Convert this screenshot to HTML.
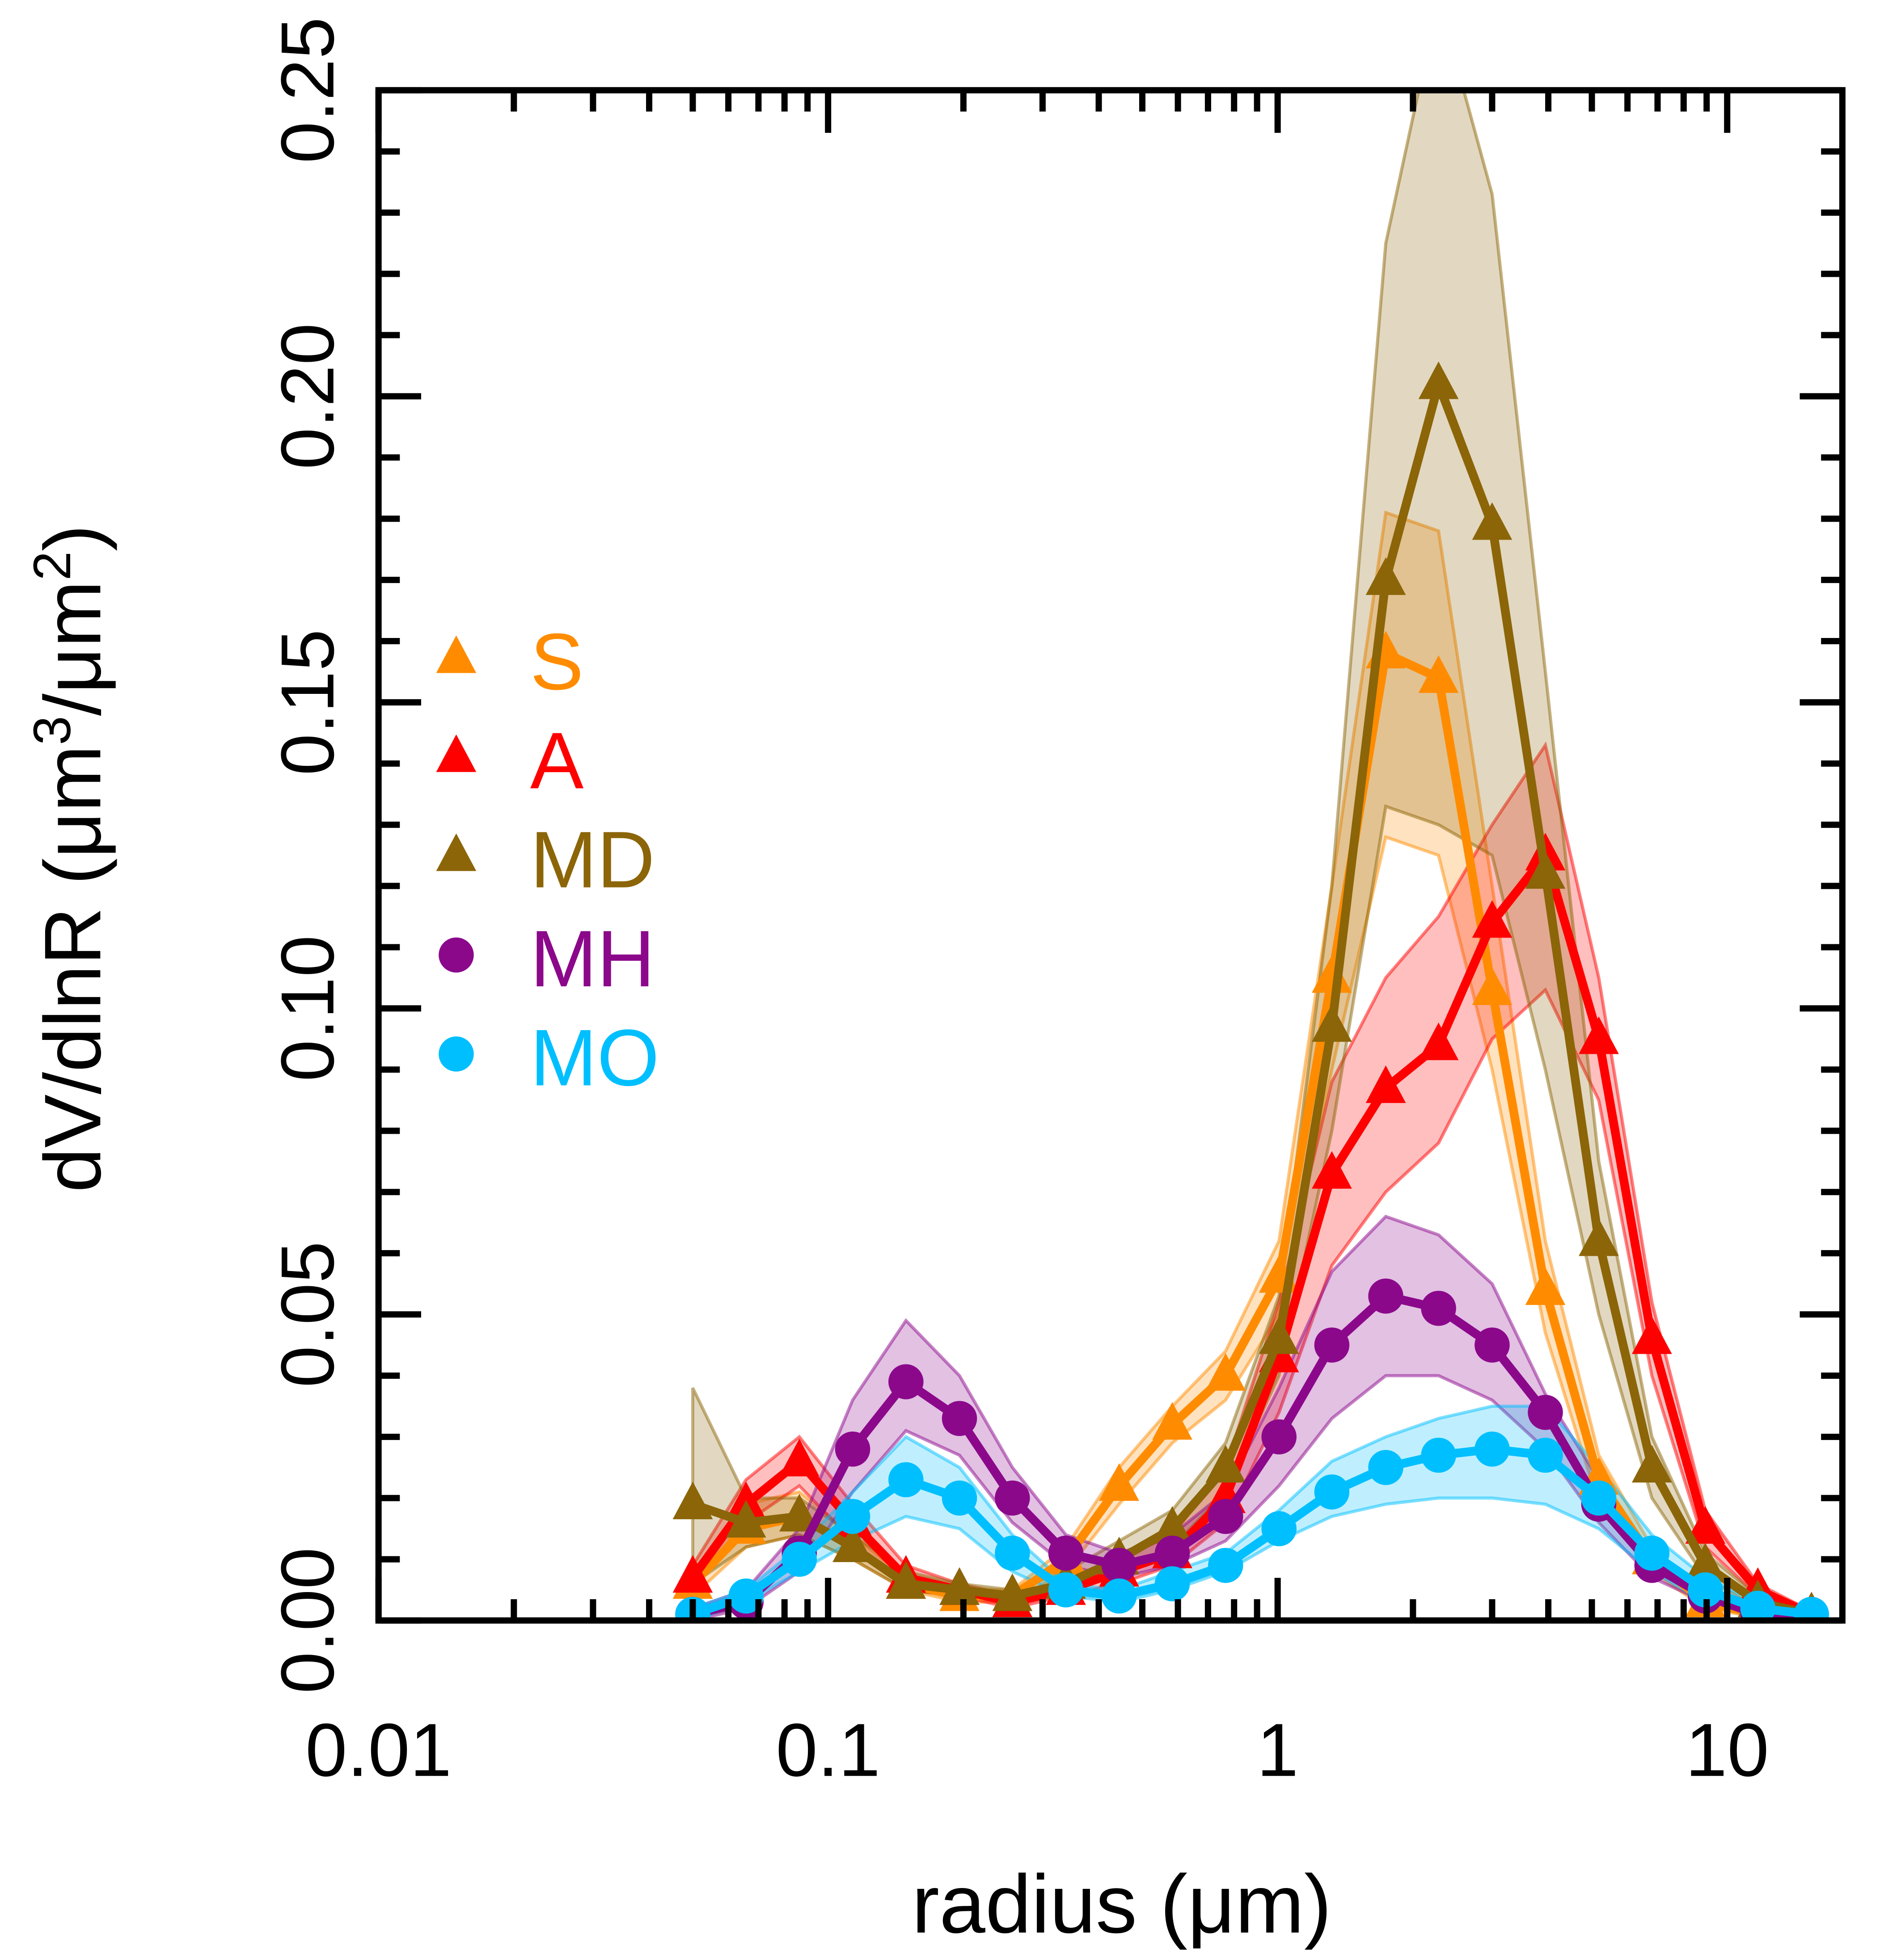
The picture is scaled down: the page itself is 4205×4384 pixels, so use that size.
<!DOCTYPE html>
<html><head><meta charset="utf-8">
<style>html,body{margin:0;padding:0;background:#fff}svg{display:block}</style></head>
<body>
<svg id="chart" xmlns="http://www.w3.org/2000/svg" width="4205" height="4384" viewBox="0 0 1500 1563.9" font-family="Liberation Sans, Arial, sans-serif">
<rect width="1500" height="1564" fill="#fff"/>
<g id="bands"></g><g id="lines"></g><g id="axes"></g>
</svg>
<script>
const radii=[0.05,0.0657,0.0863,0.1134,0.149,0.196,0.257,0.338,0.444,0.583,0.766,1.007,1.32,1.74,2.28,3.0,3.94,5.18,6.8,8.94,11.7,15.4];
const seriesNames=["S","A","MD","MH","MO"];
const sVal=[0.006,0.015,0.017,0.012,0.006,0.004,0.004,0.010,0.022,0.032,0.040,0.056,0.105,0.158,0.154,0.103,0.054,0.023,0.010,0.003,0.001,0.0];
const sLo=[0.004,0.012,0.014,0.01,0.005,0.003,0.003,0.008,0.019,0.029,0.036,0.05,0.09,0.128,0.125,0.09,0.047,0.019,0.008,0.002,0.0005,0];
const sHi=[0.008,0.019,0.021,0.014,0.007,0.005,0.005,0.012,0.025,0.035,0.044,0.062,0.12,0.181,0.178,0.12,0.062,0.027,0.012,0.004,0.0015,0.0003];
const aVal=[0.007,0.019,0.026,0.016,0.007,0.005,0.003,0.005,0.008,0.011,0.020,0.043,0.073,0.087,0.094,0.114,0.125,0.095,0.046,0.015,0.005,0.001];
const aLo=[0.005,0.016,0.022,0.013,0.005,0.004,0.002,0.004,0.006,0.009,0.016,0.034,0.058,0.07,0.078,0.095,0.103,0.085,0.04,0.012,0.004,0.0005];
const aHi=[0.009,0.023,0.03,0.019,0.009,0.006,0.004,0.006,0.01,0.014,0.025,0.052,0.088,0.105,0.115,0.13,0.143,0.105,0.052,0.018,0.006,0.0015];
const mdVal=[0.019,0.016,0.017,0.012,0.006,0.005,0.004,0.006,0.010,0.015,0.025,0.046,0.097,0.170,0.202,0.179,0.122,0.062,0.025,0.009,0.003,0.001];
const mdLo=[0.006,0.012,0.014,0.01,0.005,0.004,0.003,0.005,0.008,0.012,0.021,0.04,0.08,0.133,0.13,0.125,0.09,0.05,0.02,0.007,0.002,0.0];
const mdHi=[0.038,0.02,0.02,0.014,0.008,0.006,0.005,0.008,0.013,0.018,0.029,0.053,0.12,0.225,0.265,0.233,0.155,0.075,0.03,0.011,0.004,0.001];
const mhVal=[0.001,0.003,0.011,0.028,0.039,0.033,0.020,0.011,0.009,0.011,0.017,0.030,0.045,0.053,0.051,0.045,0.034,0.019,0.009,0.004,0.001,0.0];
const mhLo=[0,0.002,0.008,0.021,0.031,0.027,0.016,0.009,0.007,0.009,0.013,0.022,0.033,0.04,0.04,0.036,0.028,0.016,0.007,0.003,0.001,0];
const mhHi=[0.002,0.005,0.015,0.036,0.049,0.04,0.025,0.014,0.011,0.014,0.021,0.038,0.057,0.066,0.063,0.055,0.037,0.023,0.011,0.005,0.002,0.0005];
const moVal=[0.001,0.004,0.010,0.017,0.023,0.020,0.011,0.005,0.004,0.006,0.009,0.015,0.021,0.025,0.027,0.028,0.027,0.020,0.011,0.005,0.002,0.001];
const moLo=[0,0.003,0.008,0.013,0.017,0.015,0.008,0.004,0.003,0.005,0.008,0.013,0.017,0.019,0.02,0.02,0.019,0.015,0.008,0.003,0.001,0];
const moHi=[0.002,0.005,0.012,0.021,0.03,0.025,0.014,0.006,0.005,0.008,0.011,0.018,0.026,0.03,0.033,0.035,0.035,0.025,0.014,0.007,0.003,0.001];
const yTicks=["0.00","0.05","0.10","0.15","0.20","0.25"];
const xTicks=["0.01","0.1","1","10"];

const L=302,R=1470,T=72,B=1293,X0=302,DEC=358.7;
const sx=v=>X0+(Math.log10(v)+2)*DEC;
const sy=v=>B-v*(B-T)/0.25;
const NS="http://www.w3.org/2000/svg";
function mk(tag,attrs,parent){const e=document.createElementNS(NS,tag);for(const k in attrs)e.setAttribute(k,attrs[k]);parent.appendChild(e);return e;}
const gB=document.getElementById('bands'),gL=document.getElementById('lines'),gA=document.getElementById('axes');
const clip=mk('clipPath',{id:'pc'},document.getElementById('chart'));mk('rect',{x:L,y:T,width:R-L,height:B-T},clip);
gB.setAttribute('clip-path','url(#pc)');gL.setAttribute('clip-path','url(#pc)');

const series=[
 {name:"S",val:sVal,lo:sLo,hi:sHi,c:"#ff8c00",m:"tri"},
 {name:"A",val:aVal,lo:aLo,hi:aHi,c:"#ff0000",m:"tri"},
 {name:"MD",val:mdVal,lo:mdLo,hi:mdHi,c:"#8b6508",m:"tri"},
 {name:"MH",val:mhVal,lo:mhLo,hi:mhHi,c:"#8b088b",m:"circ"},
 {name:"MO",val:moVal,lo:moLo,hi:moHi,c:"#00bfff",m:"circ"}];
function marker(type,x,y,c,parent,nm){
 let e;
 if(type==="tri"){e=mk('polygon',{points:`${x},${y-18} ${x-16},${y+12} ${x+16},${y+12}`,fill:c},parent);}
 else e=mk('circle',{cx:x,cy:y,r:14,fill:c},parent);
 
 
 return e;}
series.forEach(s=>{
 const up=radii.map((r,i)=>sx(r)+','+sy(s.hi[i]));
 const dn=radii.map((r,i)=>sx(r)+','+sy(s.lo[i])).reverse();
 const band=mk('polygon',{points:up.concat(dn).join(' '),fill:s.c,'fill-opacity':0.25,stroke:s.c,'stroke-opacity':0.5,'stroke-width':2.5},gB);
 
 
});
series.forEach(s=>{
 const ln=mk('polyline',{points:radii.map((r,i)=>sx(r)+','+sy(s.val[i])).join(' '),fill:'none',stroke:s.c,'stroke-width':7,'stroke-linejoin':'round'},gL);
 
 
 radii.forEach((r,i)=>marker(s.m,sx(r),sy(s.val[i]),s.c,gL,'point-'+s.name.toLowerCase()));
});
const box=mk('rect',{x:L,y:T,width:R-L,height:B-T,fill:'none',stroke:'#000','stroke-width':5},gA);


for(let k=0;k<=25;k++){const v=k*0.01,y=sy(v),len=(k%5===0)?34:17;
 mk('line',{x1:L,x2:L+len,y1:y,y2:y,stroke:'#000','stroke-width':5},gA);
 mk('line',{x1:R,x2:R-len,y1:y,y2:y,stroke:'#000','stroke-width':5},gA);}
yTicks.forEach(t=>{const y=sy(parseFloat(t));
 const e=mk('text',{x:0,y:0,transform:`translate(266,${y}) rotate(-90)`,'text-anchor':'middle','font-size':60},gA);e.textContent=t;
 
 });
for(let d=-2;d<=1;d++)for(let m=1;m<=9;m++){const v=m*Math.pow(10,d);const x=sx(v);if(x>R+1)continue;const len=m===1?34:17;
 mk('line',{x1:x,x2:x,y1:B,y2:B-len,stroke:'#000','stroke-width':5},gA);
 mk('line',{x1:x,x2:x,y1:T,y2:T+len,stroke:'#000','stroke-width':5},gA);}
xTicks.forEach(t=>{const e=mk('text',{x:sx(parseFloat(t)),y:1417,'text-anchor':'middle','font-size':60},gA);e.textContent=t;
 
 });
let xt=mk('text',{x:895,y:1542,'text-anchor':'middle','font-size':66},gA);xt.textContent='radius (μm)';


let yt=mk('text',{x:0,y:0,transform:'translate(80,685) rotate(-90)','text-anchor':'middle','font-size':64},gA);
yt.innerHTML='dV/dlnR (μm<tspan dy="-24" font-size="42">3</tspan><tspan dy="24">/μm</tspan><tspan dy="-24" font-size="42">2</tspan><tspan dy="24">)</tspan>';


series.forEach((s,i)=>{const y=528+i*79;
 const g=mk('g',{},gA);
 
 
 marker(s.m,364,y-3,s.c,g,'legend-marker');
 const t=mk('text',{x:423,y:y+22,'font-size':64,fill:s.c},g);t.textContent=s.name;});
</script>
</body></html>
